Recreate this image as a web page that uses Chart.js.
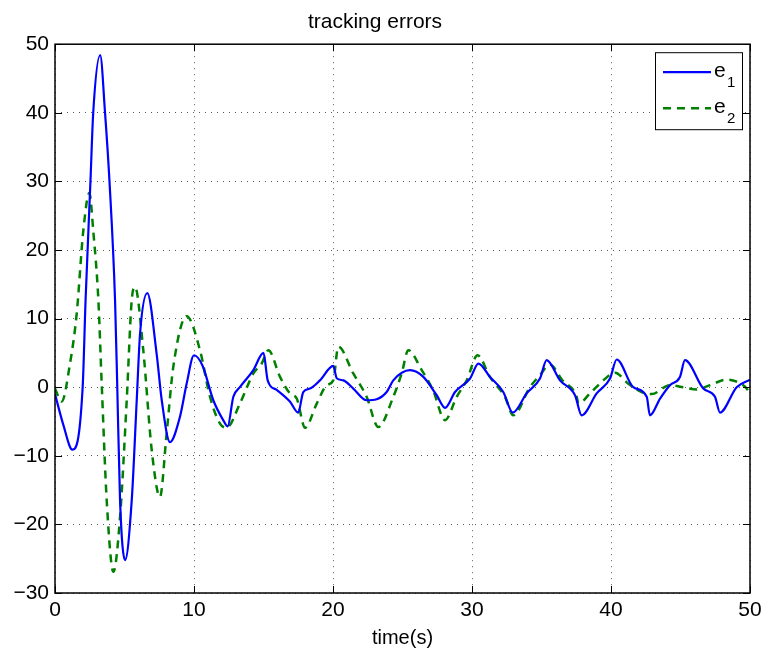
<!DOCTYPE html>
<html>
<head>
<meta charset="utf-8">
<script src="https://cdn.jsdelivr.net/npm/chart.js@4/dist/chart.umd.min.js"></script>
<style>
  html, body { margin: 0; padding: 0; background: #fff; }
  #wrap { width: 767px; height: 650px; }
</style>
</head>
<body>
<div id="wrap"><canvas id="chart" width="767" height="650"></canvas></div>
<script>
// values
const e1Time = [0, 0.6, 1.25, 1.99, 2.2, 2.55, 2.75, 3.25, 3.6, 3.92, 4.32, 4.48, 4.68, 5.04, 5.52, 5.88, 6.12, 6.64, 7.31, 7.68, 8.27, 8.99, 9.47, 10.0, 10.6, 11.39, 12.1, 12.42, 12.83, 13.3, 14.27, 15.0, 15.3, 15.95, 16.9, 17.5, 17.86, 18.35, 19.06, 20.02, 20.27, 20.74, 21.46, 22.42, 23.14, 23.86, 24.34, 25.54, 26.5, 27.46, 28.06, 28.78, 29.86, 30.46, 31.29, 32.25, 32.93, 33.93, 34.89, 35.37, 36.33, 37.41, 37.89, 38.97, 39.93, 40.41, 41.6, 42.57, 42.8, 43.53, 44.24, 44.96, 45.32, 46.64, 47.48, 47.84, 49.04, 50];
const e1Vals = [-1, -5.5, -9.1, 0, 12.7, 30, 40, 48.4, 40, 30, 12.7, 0, -16.5, -25.2, -16.5, -1.9, 7.8, 13.7, 4.9, -1.9, -8.0, -4.3, 0.5, 4.66, 3.2, -1.9, -4.8, -5.7, -1.4, 0, 2.5, 5.0, 1.0, -0.4, -2.1, -3.7, -0.7, -0.2, 1.0, 3.1, 1.3, 1.0, -0.2, -1.9, -1.75, -0.7, 1.0, 2.48, 1.5, -1.17, -3.0, -0.7, 1.27, 3.45, 1.5, -0.7, -3.7, -0.9, 1.27, 3.94, 1.0, -1.17, -4.1, -0.9, 1.27, 4.04, 0, -1.4, -4.1, -1.65, 0.3, 1.5, 3.94, -0.2, -1.4, -3.7, 0, 1.1];

const e2Time = [0, 0.48, 1.08, 1.56, 2.04, 2.47, 2.76, 3.12, 3.36, 3.72, 4.2, 4.68, 5.16, 5.52, 5.76, 6.35, 6.96, 7.55, 8.03, 8.51, 9.47, 10.43, 11.15, 11.87, 12.35, 13.3, 14.27, 14.87, 15.35, 16.19, 16.9, 17.39, 17.99, 18.83, 19.55, 20.02, 20.38, 21.46, 22.42, 23.26, 24.34, 24.94, 25.42, 26.38, 27.2, 28.06, 28.9, 29.62, 30.4, 31.29, 32.37, 32.97, 34.17, 34.89, 35.6, 36.5, 37.53, 37.65, 38.49, 39.45, 40.29, 41.25, 42.2, 42.93, 44.24, 45.2, 46.16, 47.12, 48.32, 49.04, 49.76, 50];
const e2Vals = [-0.2, -2.1, 3.45, 10.7, 22.9, 28.3, 22.6, 12.7, 0.5, -16.5, -26.9, -18.9, -1.9, 12.7, 14.6, 5.4, -9.2, -16.0, -6.75, 2.96, 10.35, 5.4, -1.4, -5.3, -5.9, -2.4, 2.0, 3.45, 5.4, 1.5, -0.9, -1.65, -5.9, -2.4, 0.3, 1.0, 5.9, 2.0, -1.4, -5.8, -1.4, 2.0, 5.4, 2.5, -0.44, -4.8, -1.4, 1.0, 4.66, 1.5, -1.4, -4.1, 0, 1.75, 3.3, 1.0, -1.4, -2.4, -0.9, 1.0, 2.1, 0.5, -0.7, -1.0, 0.3, 0.0, -0.34, 0.3, 1.1, 0.8, -0.2, -1.2];

const xTicks = [0, 10, 20, 30, 40, 50];
const yTicks = [-30, -20, -10, 0, 10, 20, 30, 40, 50];

const FONT = '"Liberation Sans", Arial, Helvetica, sans-serif';

function toPoints(ts, vs) {
    return ts.map((t, i) => ({ x: t, y: vs[i] }));
}

// frame, inward tick marks and the e1/e2 legend with subscripts
const matlabFrame = {
    id: 'matlabFrame',
    afterDatasetsDraw(chart) {
        const ctx = chart.ctx;
        const a = chart.chartArea;
        const xs = chart.scales.x;
        const ys = chart.scales.y;
        ctx.save();
        ctx.strokeStyle = '#000';
        ctx.lineWidth = 1;
        ctx.beginPath();
        xTicks.forEach((t) => {
            const px = Math.round(xs.getPixelForValue(t)) + 0.5;
            ctx.moveTo(px, a.bottom); ctx.lineTo(px, a.bottom - 7);
            ctx.moveTo(px, a.top); ctx.lineTo(px, a.top + 7);
        });
        yTicks.forEach((v) => {
            const py = Math.round(ys.getPixelForValue(v)) + 0.5;
            ctx.moveTo(a.left, py); ctx.lineTo(a.left + 7, py);
            ctx.moveTo(a.right, py); ctx.lineTo(a.right - 7, py);
        });
        ctx.stroke();
        ctx.lineWidth = 1.5;
        ctx.strokeRect(a.left, a.top, a.right - a.left, a.bottom - a.top);

        // legend box
        const bw = 87, bh = 77;
        const bx = a.right - 8 - bw, by = a.top + 8;
        ctx.fillStyle = '#fff';
        ctx.fillRect(bx, by, bw, bh);
        ctx.lineWidth = 1;
        ctx.strokeRect(bx + 0.5, by + 0.5, bw, bh);
        chart.data.datasets.forEach((ds, i) => {
            const ly = by + 20 + i * 36;
            ctx.strokeStyle = ds.borderColor;
            ctx.lineWidth = ds.borderWidth;
            ctx.setLineDash(ds.borderDash || []);
            ctx.beginPath();
            ctx.moveTo(bx + 8, ly);
            ctx.lineTo(bx + 56, ly);
            ctx.stroke();
            ctx.setLineDash([]);
            ctx.fillStyle = '#000';
            ctx.textBaseline = 'alphabetic';
            ctx.textAlign = 'left';
            ctx.font = '21px ' + FONT;
            ctx.fillText(ds.label.charAt(0), bx + 59, ly + 5);
            ctx.font = '15px ' + FONT;
            ctx.fillText(ds.label.slice(1), bx + 72, ly + 15);
        });
        ctx.restore();
    }
};

const gridStyle = {
    color: 'rgba(0,0,0,0.65)',
    lineWidth: 1,
    drawTicks: false,
    tickLength: 0
};

new Chart(document.getElementById('chart'), {
    type: 'line',
    data: {
        datasets: [
            {
                label: 'e1',
                data: toPoints(e1Time, e1Vals),
                borderColor: '#0000ff',
                borderWidth: 2.2,
                pointRadius: 0,
                cubicInterpolationMode: 'monotone',
                fill: false
            },
            {
                label: 'e2',
                data: toPoints(e2Time, e2Vals),
                borderColor: '#008000',
                borderWidth: 2.5,
                borderDash: [8, 6],
                pointRadius: 0,
                cubicInterpolationMode: 'monotone',
                fill: false
            }
        ]
    },
    options: {
        responsive: false,
        animation: false,
        layout: { padding: { left: 0, right: 17, top: 0, bottom: 0 } },
        plugins: {
            legend: { display: false },
            tooltip: { enabled: false },
            title: {
                display: true,
                text: 'tracking errors',
                color: '#000',
                font: { family: FONT, size: 21, weight: 'normal' },
                padding: { top: 10, bottom: 9 }
            }
        },
        scales: {
            x: {
                type: 'linear',
                min: 0,
                max: 50,
                afterBuildTicks: (s) => { s.ticks = xTicks.map((v) => ({ value: v })); },
                afterFit: (s) => { s.height = 57; },
                grid: Object.assign({}, gridStyle),
                border: { display: false, dash: [1, 5] },
                ticks: {
                    color: '#000',
                    padding: 5,
                    maxRotation: 0,
                    font: { family: FONT, size: 21 }
                },
                title: {
                    display: true,
                    text: 'time(s)',
                    color: '#000',
                    font: { family: FONT, size: 20 },
                    padding: { top: 0, bottom: 0 }
                }
            },
            y: {
                type: 'linear',
                min: -30,
                max: 50,
                afterBuildTicks: (s) => { s.ticks = yTicks.map((v) => ({ value: v })); },
                afterFit: (s) => { s.width = 55; },
                grid: Object.assign({}, gridStyle),
                border: { display: false, dash: [1, 5] },
                ticks: {
                    color: '#000',
                    padding: 6,
                    font: { family: FONT, size: 21 },
                    callback: (v) => String(v).replace('-', '\u2212')
                }
            }
        }
    },
    plugins: [matlabFrame]
});
</script>
</body>
</html>
